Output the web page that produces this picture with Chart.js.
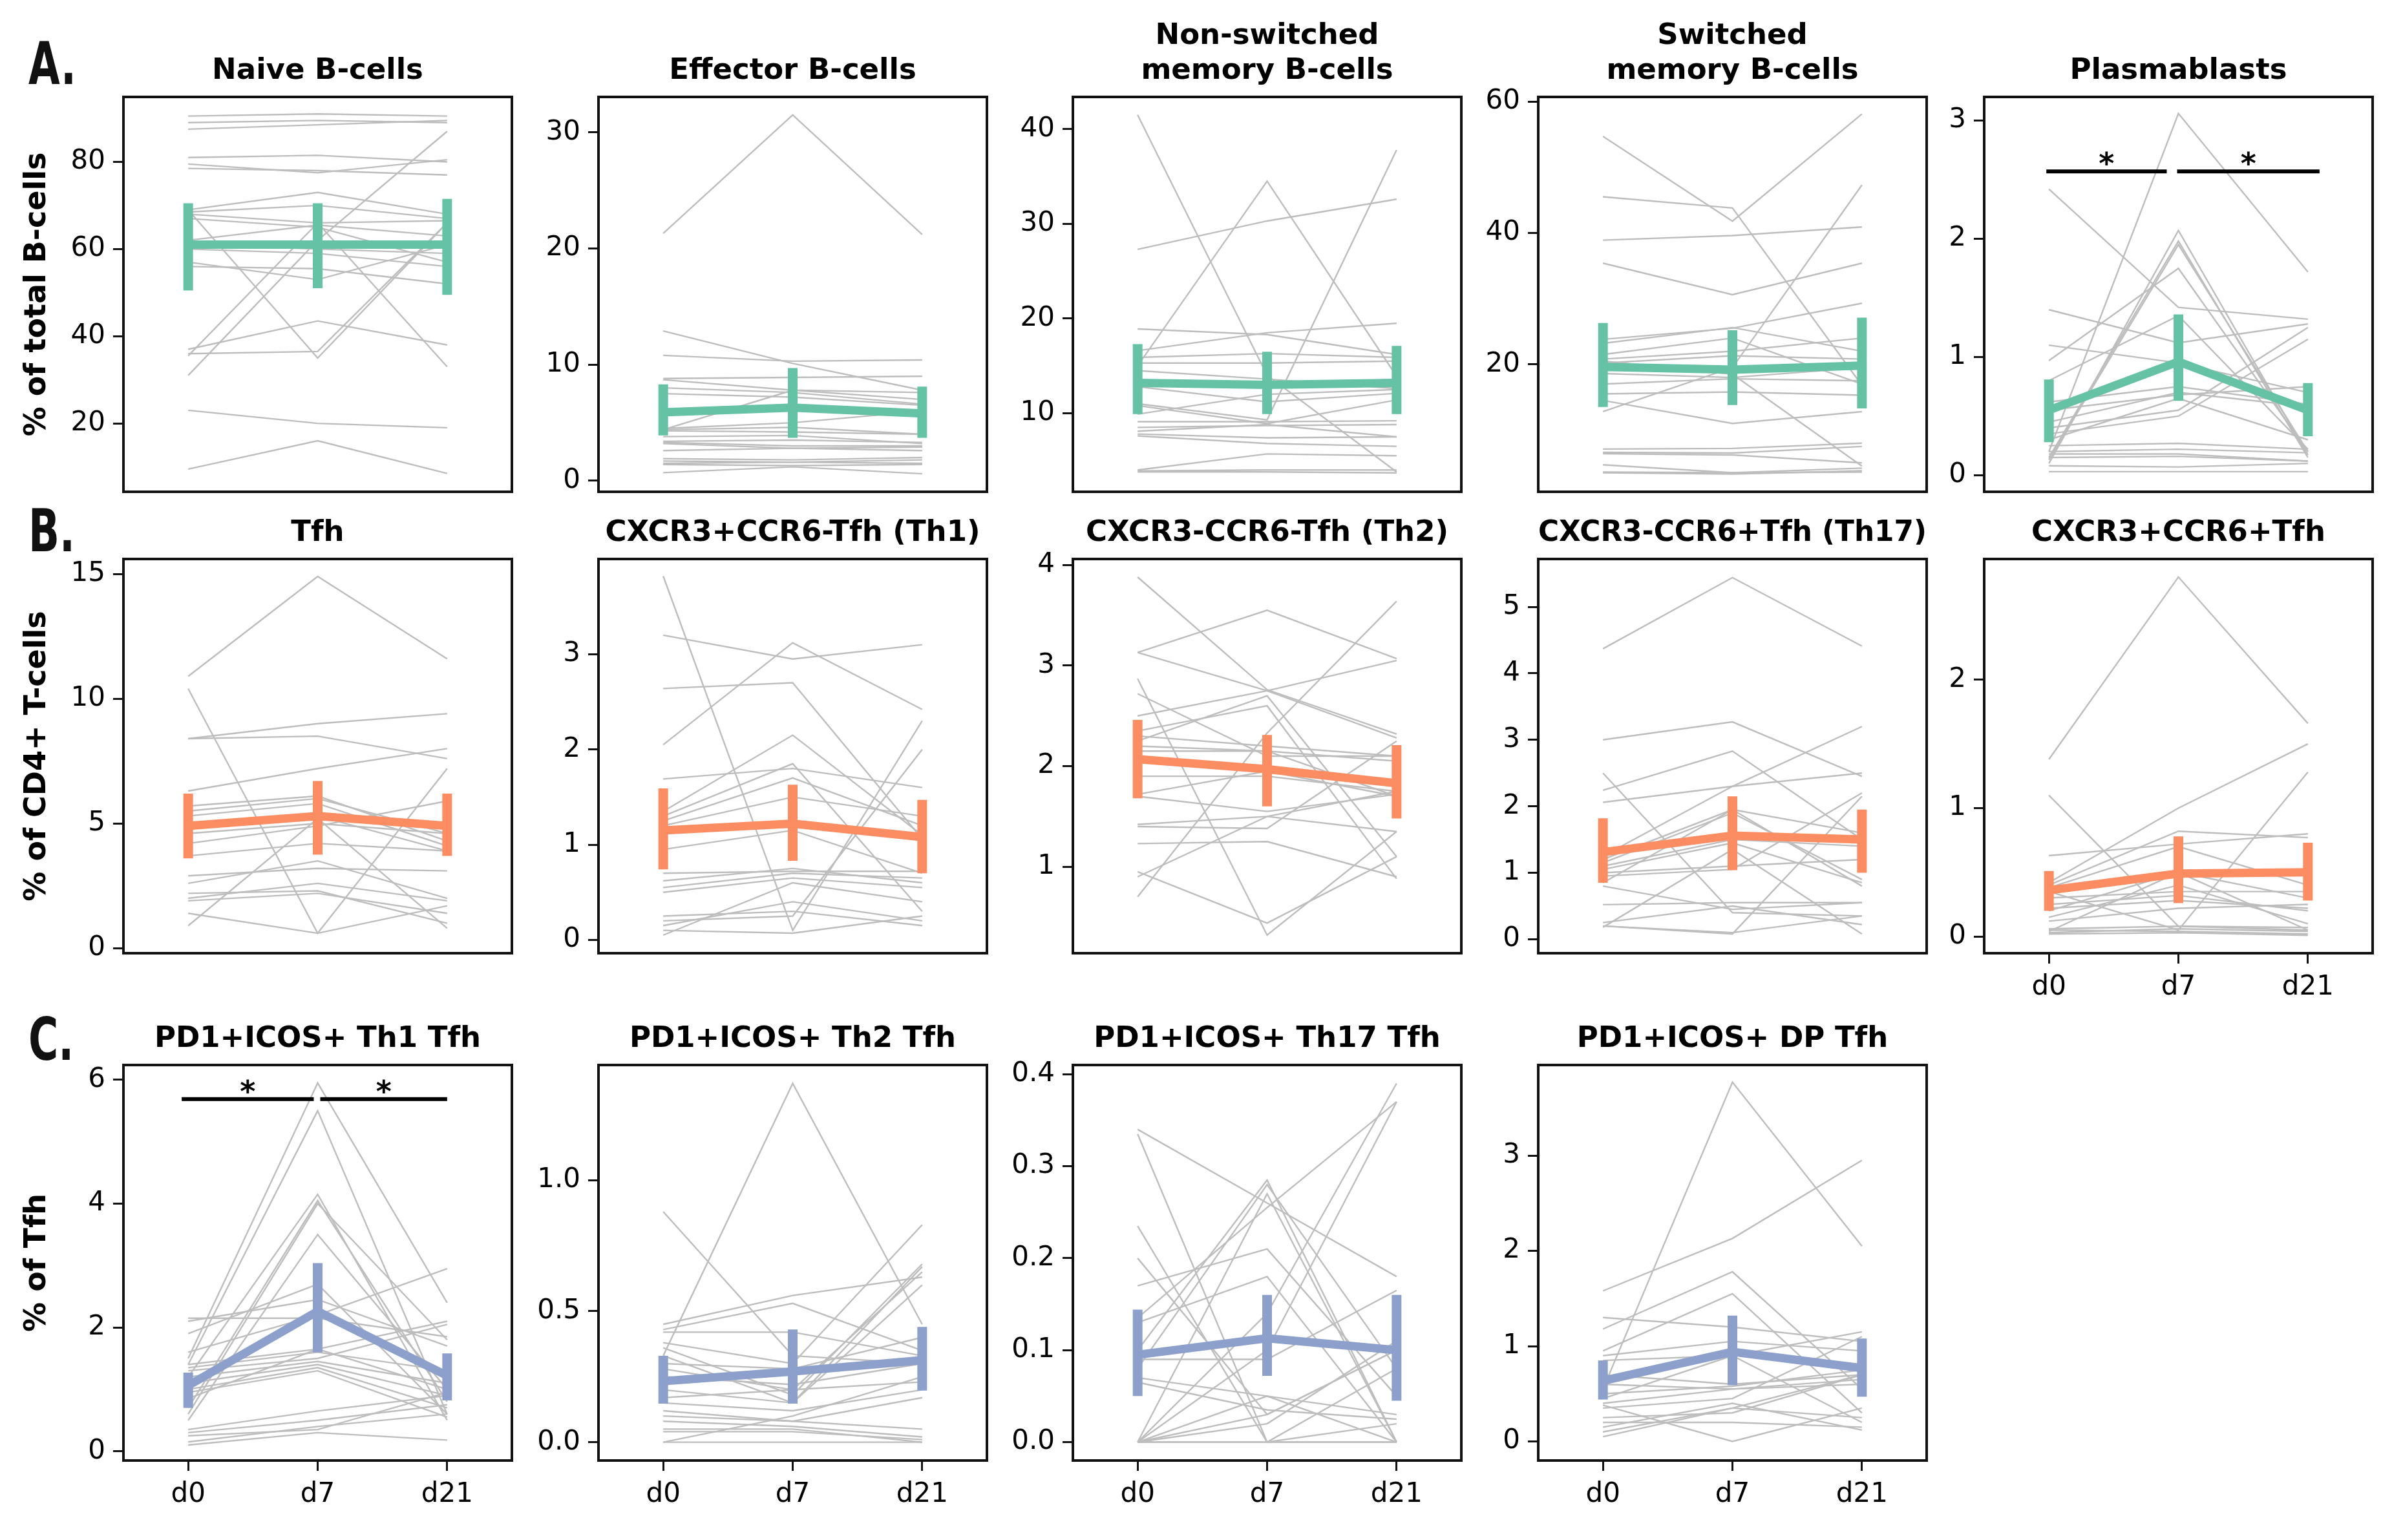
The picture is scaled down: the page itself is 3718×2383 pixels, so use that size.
<!DOCTYPE html>
<html>
<head>
<meta charset="utf-8">
<title>B-cell and Tfh subsets over time</title>
<script src="https://cdn.jsdelivr.net/npm/chart.js@4.4.1/dist/chart.umd.min.js"></script>
<style>
  html, body { margin: 0; padding: 0; background: #fff; }
  #fig { position: relative; width: 3718px; height: 2383px; overflow: hidden; background: #fff; }
  #fig canvas { position: absolute; }
  .row-label {
    position: absolute;
    font-family: 'DejaVu Sans', sans-serif;
    font-weight: bold;
    font-size: 90px;
    line-height: 1;
    color: #111;
    transform: scaleX(0.7);
    transform-origin: left top;
  }
</style>
</head>
<body>
<div id="fig">
  <div class="row-label" style="left:44px;top:54px">A.</div>
  <div class="row-label" style="left:44px;top:777px">B.</div>
  <div class="row-label" style="left:44px;top:1564px">C.</div>
</div>
<script>
// --- Data ---
const days = ['d0', 'd7', 'd21'];

// Row A: % of total B-cells
const naiveB = [[90.5,91,90.5],[89,89.5,89],[87.5,88.5,89.5],[81,81.5,80],[79.5,77.5,80.5],[78.5,78,77],[69,73,68],[68.5,70,67],[68,66,66.5],[67,65,57],[62,65.5,63],[61,60,59],[60,59,56],[57,53,61],[56,55.5,52],[69,35,66],[31,62,87],[37,43.5,38],[36,36.5,66],[35.5,66,33],[23,20,19],[9.5,16,8.5]];
const naiveMean = [61, 61, 61];
const naiveLo = [50.5, 51, 49.5];
const naiveHi = [70.5, 70.5, 71.5];

const effectorB = [[21.3,31.5,21.2],[12.9,10.1,7.8],[10.8,10.3,10.4],[8.8,8.9,9.0],[8.7,7.8,7.0],[8.0,7.6,6.6],[7.5,7.2,6.5],[4.4,7.8,7.6],[4.5,5.0,6.0],[4.4,4.6,4.0],[4.3,4.2,4.0],[3.8,3.9,3.2],[3.4,3.5,3.3],[3.3,3.0,3.0],[3.2,2.8,2.9],[2.6,2.8,2.6],[1.9,1.8,2.0],[1.7,1.6,1.8],[1.5,1.6,1.5],[1.4,1.3,1.4],[0.7,1.2,0.6]];
const effectorMean = [5.9, 6.3, 5.8];
const effectorLo = [3.9, 3.7, 3.7];
const effectorHi = [8.3, 9.7, 8.1];

const nonSwitchedB = [[41.5,14,3.8],[27.3,30.3,32.6],[15,34.5,13.9],[11,9.3,37.8],[18.9,18.3,16.2],[16.6,18.5,19.5],[15.9,16.3,15.9],[15.3,15.3,15.5],[14.5,13.6,12.6],[13.4,12.8,13.6],[12.8,11.2,12.1],[10.8,8.9,11.4],[9.9,12.0,12.5],[9.1,9.1,9.2],[8.5,8.7,8.8],[8.1,8.8,7.5],[7.8,7.4,7.5],[7.6,6.8,6.5],[4.0,5.7,5.5],[3.9,4.0,4.0],[3.8,3.8,3.7]];
const nonSwitchedMean = [13.2, 13.0, 13.2];
const nonSwitchedLo = [9.9, 9.9, 9.9];
const nonSwitchedHi = [17.3, 16.5, 17.1];

const switchedB = [[54.7,41.8,58.1],[45.5,43.8,16.8],[38.9,39.6,40.9],[35.4,30.6,35.4],[23.8,25.5,29.3],[23.2,25.6,22],[21.5,24,17],[20.8,22,24],[20.2,21.3,20.8],[18.6,18,19.5],[17,17.8,17.5],[15.5,15.8,15.3],[14.5,11,12.8],[12.8,19.5,47.3],[20.5,18.5,4.5],[7.1,7.2,8],[6.6,6.5,7.5],[6.4,6.2,5],[4.7,3.5,4.2],[3.6,3.5,3.6],[3.5,3.3,3.8]];
const switchedMean = [19.6, 19.2, 19.8];
const switchedLo = [13.5, 13.8, 13.3];
const switchedHi = [26.3, 25.2, 27.1];

const plasmablasts = [[2.42,1.42,1.32],[0.2,3.06,1.72],[0.1,2.07,0.17],[0.15,1.98,0.15],[0.13,1.95,0.2],[1.4,1.12,1.28],[1.1,0.95,0.7],[0.97,1.75,0.2],[0.8,1.35,0.22],[0.62,0.75,0.6],[0.55,0.68,0.75],[0.45,0.7,0.58],[0.4,0.55,1.25],[0.35,0.5,1.15],[0.3,0.65,0.3],[0.25,0.27,0.22],[0.2,0.22,0.19],[0.18,0.18,0.12],[0.15,0.16,0.12],[0.08,0.07,0.1],[0.03,0.03,0.03]];
const plasmaMean = [0.55, 0.96, 0.55];
const plasmaLo = [0.28, 0.63, 0.33];
const plasmaHi = [0.81, 1.36, 0.78];
const plasmaSig = [[-0.02, 0.91, 2.57], [0.99, 2.09, 2.57]];

// Row B: % of CD4+ T-cells
const tfh = [[10.9,14.9,11.6],[10.4,0.6,7.2],[8.4,9.0,9.4],[8.4,8.5,7.6],[6.3,7.2,8.0],[5.7,6.1,4.3],[5.5,6.0,4.6],[5.3,5.8,4.1],[4.9,5.3,3.9],[4.6,5.0,4.6],[4.2,4.9,5.9],[3.7,4.2,3.9],[2.9,3.2,3.1],[2.6,3.5,2.0],[2.2,2.3,1.0],[2.0,2.6,1.9],[1.9,2.2,1.4],[1.4,0.6,1.7],[0.9,5.2,0.8]];
const tfhMean = [4.9, 5.3, 4.9];
const tfhLo = [3.6, 3.75, 3.7];
const tfhHi = [6.2, 6.7, 6.2];

const tfhTh1 = [[3.82,0.1,2.3],[3.2,2.95,3.1],[2.05,3.12,2.42],[2.64,2.7,1.06],[1.69,1.8,1.6],[1.35,2.15,1.1],[1.3,1.85,0.3],[1.25,1.7,1.2],[1.2,1.5,1.3],[0.95,1.15,0.7],[0.7,0.72,0.72],[0.62,0.75,0.6],[0.55,0.7,0.65],[0.5,0.65,0.55],[0.25,0.3,0.15],[0.2,0.25,2.0],[0.15,0.4,0.2],[0.1,0.07,0.25],[0.05,0.6,0.4]];
const th1Mean = [1.15, 1.22, 1.08];
const th1Lo = [0.74, 0.83, 0.7];
const th1Hi = [1.59, 1.63, 1.47];

const tfhTh2 = [[3.88,2.76,2.32],[3.13,3.55,3.07],[3.13,2.75,2.28],[2.87,0.32,1.35],[2.72,2.1,2.1],[2.5,2.75,3.05],[2.25,2.7,1.1],[2.35,2.6,0.88],[2.3,2.2,2.1],[2.2,2.15,1.7],[2.15,2.15,2.05],[1.9,1.9,1.75],[1.72,1.95,1.7],[1.7,1.55,1.72],[1.42,1.5,1.75],[1.4,1.38,2.25],[0.7,2.33,3.64],[1.23,1.25,0.9],[0.95,0.44,1.1],[0.9,1.5,1.35]];
const th2Mean = [2.07, 1.97, 1.83];
const th2Lo = [1.68, 1.6, 1.48];
const th2Hi = [2.46, 2.31, 2.21];

const tfhTh17 = [[4.37,5.44,4.41],[3.0,3.27,2.45],[2.5,0.4,0.35],[2.24,2.83,1.5],[2.06,2.3,2.5],[1.25,2.3,3.2],[1.2,1.95,1.6],[1.15,1.9,0.9],[1.1,1.5,1.4],[1.05,1.45,0.85],[1.0,1.1,1.2],[0.95,1.05,2.2],[0.8,0.45,0.55],[0.85,1.95,0.8],[0.52,0.55,0.55],[0.25,0.5,0.22],[0.2,0.1,0.35],[0.18,1.35,0.08],[0.2,0.08,2.15]];
const th17Mean = [1.31, 1.56, 1.5];
const th17Lo = [0.85, 1.04, 1.0];
const th17Hi = [1.82, 2.15, 1.95];

const tfhDP = [[1.38,2.8,1.66],[1.1,0.08,0.05],[0.42,1.0,1.5],[0.63,0.72,0.8],[0.4,0.82,0.77],[0.38,0.7,0.4],[0.35,0.05,1.28],[0.3,0.35,0.35],[0.25,0.32,0.2],[0.22,0.28,0.22],[0.2,0.5,0.05],[0.15,0.4,0.1],[0.12,0.22,0.25],[0.06,0.08,0.07],[0.05,0.04,0.02],[0.03,0.06,0.04],[0.02,0.03,0.01],[0.04,0.5,0.3]];
const dpMean = [0.36, 0.49, 0.5];
const dpLo = [0.2, 0.26, 0.28];
const dpHi = [0.51, 0.78, 0.73];

// Row C: % of Tfh (PD1+ICOS+)
const picTh1 = [[1.5,5.95,2.4],[1.4,5.5,0.6],[1.2,4.15,0.5],[0.7,4.05,0.8],[0.6,4.0,1.8],[0.5,3.5,1.0],[2.15,2.15,1.85],[2.1,2.45,1.7],[1.9,2.7,0.6],[1.6,2.2,2.95],[1.4,1.65,2.1],[1.35,1.6,1.3],[1.3,1.5,2.05],[1.2,1.45,1.1],[1.1,1.4,0.9],[1.0,1.35,0.7],[0.95,1.3,0.55],[0.85,1.65,1.0],[0.35,0.65,0.9],[0.3,0.5,0.75],[0.25,0.35,0.95],[0.15,0.4,0.6],[0.1,0.3,0.18]];
const picTh1Mean = [1.06, 2.26, 1.22];
const picTh1Lo = [0.7, 1.6, 0.82];
const picTh1Hi = [1.27, 3.04, 1.58];
const picTh1Sig = [[-0.05, 0.97, 5.69], [1.02, 2.0, 5.69]];

const picTh2 = [[0.33,1.37,0.45],[0.88,0.33,0.3],[0.45,0.56,0.63],[0.43,0.53,0.35],[0.42,0.42,0.33],[0.38,0.3,0.83],[0.36,0.18,0.68],[0.33,0.15,0.67],[0.3,0.28,0.4],[0.28,0.2,0.65],[0.25,0.22,0.3],[0.2,0.15,0.6],[0.17,0.2,0.23],[0.15,0.12,0.2],[0.12,0.08,0.05],[0.1,0.08,0.17],[0.08,0.06,0.02],[0.05,0.05,0.0],[0.04,0.04,0.01],[0.0,0.1,0.25],[0.0,0.0,0.0]];
const picTh2Mean = [0.233, 0.27, 0.313];
const picTh2Lo = [0.147, 0.147, 0.197];
const picTh2Hi = [0.33, 0.43, 0.44];

const picTh17 = [[0.34,0.26,0.18],[0.335,0.0,0.02],[0.235,0.0,0.0],[0.2,0.03,0.1],[0.17,0.21,0.05],[0.135,0.255,0.37],[0.13,0.18,0.0],[0.1,0.285,0.0],[0.09,0.09,0.165],[0.08,0.28,0.08],[0.07,0.05,0.03],[0.065,0.035,0.025],[0.0,0.14,0.39],[0.0,0.1,0.37],[0.0,0.02,0.11],[0.0,0.0,0.08],[0.0,0.05,0.0],[0.0,0.0,0.0],[0.0,0.27,0.0],[0.0,0.03,0.1]];
const picTh17Mean = [0.095, 0.113, 0.10];
const picTh17Lo = [0.05, 0.072, 0.045];
const picTh17Hi = [0.144, 0.16, 0.16];

const picDP = [[0.55,3.77,2.05],[1.58,2.13,2.95],[1.3,1.2,1.05],[1.18,1.78,0.55],[0.95,1.55,0.3],[0.9,1.05,0.95],[0.85,0.9,1.15],[0.7,0.6,0.7],[0.6,0.55,0.65],[0.5,0.58,0.75],[0.45,0.9,0.2],[0.4,0.55,0.6],[0.38,0.0,0.35],[0.35,0.45,1.1],[0.25,0.3,0.7],[0.2,0.2,0.15],[0.15,0.4,0.12],[0.1,0.35,0.7],[0.05,0.35,0.25]];
const picDPMean = [0.636, 0.94, 0.77];
const picDPLo = [0.44, 0.59, 0.47];
const picDPHi = [0.85, 1.32, 1.08];

// y tick labels per panel
const ticksNaive = ['20', '40', '60', '80'];
const ticksEffector = ['0', '10', '20', '30'];
const ticksNonSwitched = ['10', '20', '30', '40'];
const ticksSwitched = ['20', '40', '60'];
const ticksPlasma = ['0', '1', '2', '3'];
const ticksTfh = ['0', '5', '10', '15'];
const ticksTh1 = ['0', '1', '2', '3'];
const ticksTh2 = ['1', '2', '3', '4'];
const ticksTh17 = ['0', '1', '2', '3', '4', '5'];
const ticksDP = ['0', '1', '2'];
const ticksPicTh1 = ['0', '2', '4', '6'];
const ticksPicTh2 = ['0.0', '0.5', '1.0'];
const ticksPicTh17 = ['0.0', '0.1', '0.2', '0.3', '0.4'];
const ticksPicDP = ['0', '1', '2', '3'];

const rowTitles = ['% of total B-cells', '% of CD4+ T-cells', '% of Tfh'];
const rowColors = ['#66c2a5', '#fc8d62', '#8da0cb'];

// --- Layout (pixels) ---
const FONT = "'DejaVu Sans', sans-serif";
const GREY = '#bdbdbd';
const FRAME_LEFT = [191, 926, 1660, 2380, 3070];
const FRAME_TOP = [150, 865, 1648];
const FRAME_H = [611, 610, 612];
const FRAME_W = 601;
const Y_AXIS_W = 160;
const X_AXIS_H = 120;
const PAD_RIGHT = 12;
const TITLE_SIZE = 45;
const TITLE_LH = TITLE_SIZE * 1.2;
const TITLE_PAD_TOP = 10;
const TITLE_PAD_BOTTOM = 13;

const panels = [
    { row: 0, col: 0, title: 'Naive B-cells', subjects: naiveB, mean: naiveMean, lo: naiveLo, hi: naiveHi, yMin: 4.3, yMax: 94.9, ticks: ticksNaive },
    { row: 0, col: 1, title: 'Effector B-cells', subjects: effectorB, mean: effectorMean, lo: effectorLo, hi: effectorHi, yMin: -0.95, yMax: 33.05, ticks: ticksEffector },
    { row: 0, col: 2, title: ['Non-switched', 'memory B-cells'], subjects: nonSwitchedB, mean: nonSwitchedMean, lo: nonSwitchedLo, hi: nonSwitchedHi, yMin: 1.7, yMax: 43.4, ticks: ticksNonSwitched },
    { row: 0, col: 3, title: ['Switched', 'memory B-cells'], subjects: switchedB, mean: switchedMean, lo: switchedLo, hi: switchedHi, yMin: 0.6, yMax: 60.7, ticks: ticksSwitched },
    { row: 0, col: 4, title: 'Plasmablasts', subjects: plasmablasts, mean: plasmaMean, lo: plasmaLo, hi: plasmaHi, yMin: -0.14, yMax: 3.2, ticks: ticksPlasma, sig: plasmaSig },
    { row: 1, col: 0, title: 'Tfh', subjects: tfh, mean: tfhMean, lo: tfhLo, hi: tfhHi, yMin: -0.2, yMax: 15.6, ticks: ticksTfh },
    { row: 1, col: 1, title: 'CXCR3+CCR6-Tfh (Th1)', subjects: tfhTh1, mean: th1Mean, lo: th1Lo, hi: th1Hi, yMin: -0.14, yMax: 4.0, ticks: ticksTh1 },
    { row: 1, col: 2, title: 'CXCR3-CCR6-Tfh (Th2)', subjects: tfhTh2, mean: th2Mean, lo: th2Lo, hi: th2Hi, yMin: 0.14, yMax: 4.06, ticks: ticksTh2 },
    { row: 1, col: 3, title: 'CXCR3-CCR6+Tfh (Th17)', subjects: tfhTh17, mean: th17Mean, lo: th17Lo, hi: th17Hi, yMin: -0.21, yMax: 5.72, ticks: ticksTh17 },
    { row: 1, col: 4, title: 'CXCR3+CCR6+Tfh', subjects: tfhDP, mean: dpMean, lo: dpLo, hi: dpHi, yMin: -0.13, yMax: 2.94, ticks: ticksDP, xLabels: true },
    { row: 2, col: 0, title: 'PD1+ICOS+ Th1 Tfh', subjects: picTh1, mean: picTh1Mean, lo: picTh1Lo, hi: picTh1Hi, yMin: -0.15, yMax: 6.24, ticks: ticksPicTh1, sig: picTh1Sig, xLabels: true },
    { row: 2, col: 1, title: 'PD1+ICOS+ Th2 Tfh', subjects: picTh2, mean: picTh2Mean, lo: picTh2Lo, hi: picTh2Hi, yMin: -0.07, yMax: 1.44, ticks: ticksPicTh2, xLabels: true },
    { row: 2, col: 2, title: 'PD1+ICOS+ Th17 Tfh', subjects: picTh17, mean: picTh17Mean, lo: picTh17Lo, hi: picTh17Hi, yMin: -0.02, yMax: 0.41, ticks: ticksPicTh17, xLabels: true },
    { row: 2, col: 3, title: 'PD1+ICOS+ DP Tfh', subjects: picDP, mean: picDPMean, lo: picDPLo, hi: picDPHi, yMin: -0.2, yMax: 3.95, ticks: ticksPicDP, xLabels: true }
];

// Error bars, significance brackets and the axes frame
const panelExtras = {
    id: 'panelExtras',
    afterDatasetsDraw(chart, args, opts) {
        const { ctx, scales: { x, y } } = chart;
        ctx.save();
        ctx.strokeStyle = opts.color;
        ctx.lineWidth = 15;
        ctx.lineCap = 'butt';
        opts.lo.forEach((lo, i) => {
            const px = x.getPixelForValue(i);
            ctx.beginPath();
            ctx.moveTo(px, y.getPixelForValue(lo));
            ctx.lineTo(px, y.getPixelForValue(opts.hi[i]));
            ctx.stroke();
        });
        (opts.sig || []).forEach(([x1, x2, yv]) => {
            const py = y.getPixelForValue(yv);
            const p1 = x.getPixelForValue(x1), p2 = x.getPixelForValue(x2);
            ctx.strokeStyle = '#000';
            ctx.lineWidth = 6;
            ctx.beginPath();
            ctx.moveTo(p1, py);
            ctx.lineTo(p2, py);
            ctx.stroke();
            ctx.fillStyle = '#000';
            ctx.font = `bold 46px ${FONT}`;
            ctx.textAlign = 'center';
            ctx.textBaseline = 'alphabetic';
            ctx.fillText('*', (p1 + p2) / 2, py + 4);
        });
        ctx.restore();
    },
    afterDraw(chart) {
        const { ctx, chartArea: a } = chart;
        ctx.save();
        ctx.strokeStyle = '#111';
        ctx.lineWidth = 4;
        ctx.strokeRect(a.left, a.top, a.right - a.left, a.bottom - a.top);
        ctx.restore();
    }
};

const fig = document.getElementById('fig');

function makePanel(p) {
    const yW = p.col === 0 ? FRAME_LEFT[0] : Y_AXIS_W;
    const lines = Array.isArray(p.title) ? p.title.length : 1;
    const topH = TITLE_PAD_TOP + lines * TITLE_LH + TITLE_PAD_BOTTOM;
    const w = yW + FRAME_W + PAD_RIGHT;
    const h = topH + FRAME_H[p.row] + X_AXIS_H;

    const canvas = document.createElement('canvas');
    canvas.width = w;
    canvas.height = h;
    canvas.style.width = w + 'px';
    canvas.style.height = h + 'px';
    canvas.style.left = (FRAME_LEFT[p.col] - yW) + 'px';
    canvas.style.top = (FRAME_TOP[p.row] - topH) + 'px';
    fig.appendChild(canvas);

    const color = rowColors[p.row];
    const tickValues = p.ticks.map(Number);
    const showX = !!p.xLabels;

    // mean line first so it is drawn on top of the subject lines
    const datasets = [{
        data: p.mean,
        borderColor: color,
        borderWidth: 13,
        pointRadius: 0,
        tension: 0
    }].concat(p.subjects.map(s => ({
        data: s,
        borderColor: GREY,
        borderWidth: 2.4,
        pointRadius: 0,
        tension: 0
    })));

    new Chart(canvas.getContext('2d'), {
        type: 'line',
        data: { labels: days, datasets },
        plugins: [panelExtras],
        options: {
            responsive: false,
            animation: false,
            devicePixelRatio: 1,
            events: [],
            layout: { padding: { top: 0, right: PAD_RIGHT, bottom: 0, left: 0 } },
            plugins: {
                legend: { display: false },
                tooltip: { enabled: false },
                title: {
                    display: true,
                    text: p.title,
                    fullSize: false,
                    color: '#000',
                    font: { family: FONT, size: TITLE_SIZE, weight: 'bold', lineHeight: 1.2 },
                    padding: { top: TITLE_PAD_TOP, bottom: TITLE_PAD_BOTTOM }
                },
                panelExtras: { lo: p.lo, hi: p.hi, color, sig: p.sig }
            },
            scales: {
                x: {
                    type: 'category',
                    offset: true,
                    border: { display: false },
                    grid: { display: showX, offset: false, drawOnChartArea: false, drawTicks: true, tickLength: 16, lineWidth: 3, color: '#111' },
                    ticks: { display: showX, color: '#000', font: { family: FONT, size: 42 }, padding: 12, maxRotation: 0, autoSkip: false },
                    afterFit: s => { s.height = X_AXIS_H; }
                },
                y: {
                    min: p.yMin,
                    max: p.yMax,
                    border: { display: false },
                    afterBuildTicks: s => { s.ticks = tickValues.map(v => ({ value: v })); },
                    grid: { drawOnChartArea: false, drawTicks: true, tickLength: 16, lineWidth: 3, color: '#111' },
                    ticks: {
                        color: '#000',
                        font: { family: FONT, size: 42 },
                        padding: 12,
                        callback: (v, i) => p.ticks[i]
                    },
                    title: {
                        display: p.col === 0,
                        text: rowTitles[p.row],
                        color: '#000',
                        font: { family: FONT, size: 46, weight: 'bold' },
                        padding: { top: 30, bottom: 0 }
                    },
                    afterFit: s => { s.width = yW; }
                }
            }
        }
    });
}

panels.forEach(makePanel);
</script>
</body>
</html>
